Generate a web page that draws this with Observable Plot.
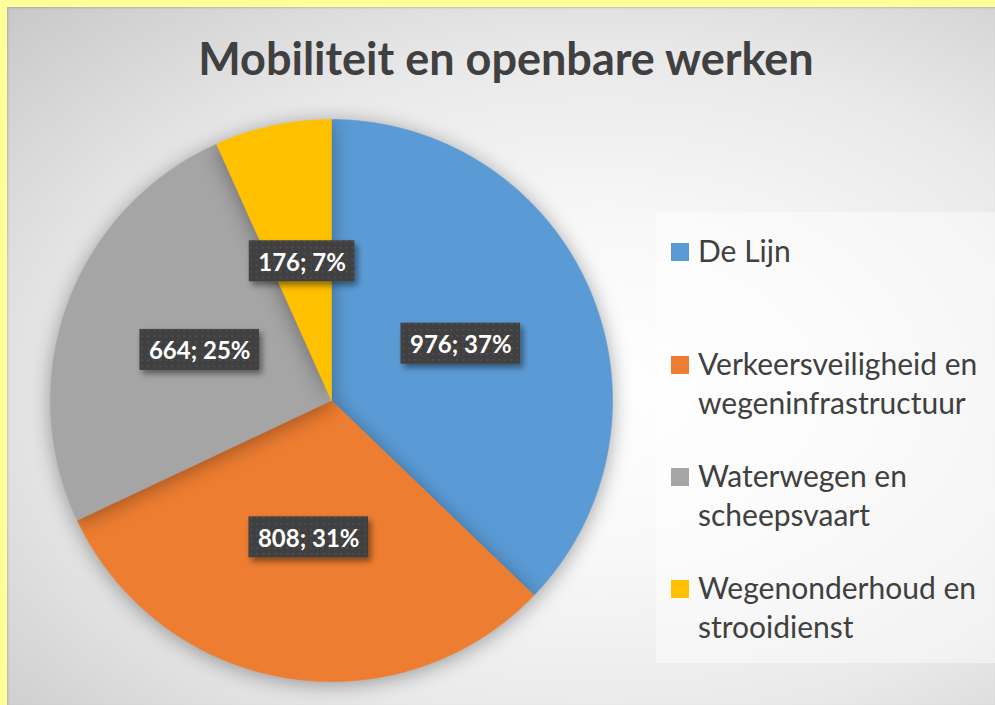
<!DOCTYPE html>
<html>
<head>
<meta charset="utf-8">
<script src="https://cdn.jsdelivr.net/npm/d3@7"></script>
<script src="https://cdn.jsdelivr.net/npm/@observablehq/plot@0.6"></script>
<style>
  html, body { margin: 0; padding: 0; }
  body { width: 995px; height: 705px; background: #ffff99; position: relative; overflow: hidden; font-family: Lato, "Open Sans", sans-serif; }
  #chart {
    position: absolute; left: 7px; top: 7px; width: 988px; height: 698px;
    background: radial-gradient(ellipse farthest-corner at 60% 55%, #ffffff 0%, #f8f8f8 30%, #e9e9e9 62%, #c8c8c8 100%);
    box-shadow: inset 1px 1px 2px rgba(0,0,0,0.15);
  }
  #title {
    position: absolute; left: 0; width: 100%; top: 24px; text-align: center; padding-left: 10px; box-sizing: border-box;
    font-family: Lato, sans-serif; font-weight: 700; font-size: 45px; color: #404040;
  }
  #plot { position: absolute; left: 0; top: 0; }
  #legend {
    position: absolute; left: 649px; top: 205px; width: 339px; height: 451px;
    background: rgba(255,255,255,0.45);
  }
  .item { position: absolute; left: 0; }
  .sw { position: absolute; left: 15px; width: 18px; height: 18px; }
  .lbl { position: absolute; left: 42px; font-size: 30px; line-height: 39px; color: #404040; white-space: nowrap; }
  .pie path { filter: drop-shadow(0px 3px 10px rgba(0,0,0,0.35)); }
</style>
</head>
<body>
<div id="chart">
  <div id="title"></div>
  <div id="plot"></div>
  <div id="legend"></div>
</div>
<script>
const title = "Mobiliteit en openbare werken";
const categories = ["De Lijn", "Verkeersveiligheid en wegeninfrastructuur", "Waterwegen en scheepsvaart", "Wegenonderhoud en strooidienst"];
const legendLines = [["De Lijn"], ["Verkeersveiligheid en", "wegeninfrastructuur"], ["Waterwegen en", "scheepsvaart"], ["Wegenonderhoud en", "strooidienst"]];
const values = [976, 808, 664, 176];
const colors = ["#5B9BD5", "#ED7D31", "#A5A5A5", "#FFC000"];

document.getElementById("title").textContent = title;

const total = d3.sum(values);
const arcs = d3.pie().sort(null).value(d => d)(values);

// wedge outlines (unit circle) built from the pie angles
const wedgePts = [];
arcs.forEach((a, i) => {
  const name = categories[i];
  wedgePts.push({name, x: 0, y: 0});
  const n = Math.max(8, Math.ceil((a.endAngle - a.startAngle) / 0.004));
  for (let k = 0; k <= n; k++) {
    const t = a.startAngle + (a.endAngle - a.startAngle) * k / n;
    wedgePts.push({name, x: Math.sin(t), y: Math.cos(t)});
  }
  wedgePts.push({name, x: 0, y: 0});
});

// data labels at half radius
const labelData = arcs.map((a, i) => {
  const m = (a.startAngle + a.endAngle) / 2;
  return {
    name: categories[i],
    x: 0.5 * Math.sin(m),
    y: 0.5 * Math.cos(m),
    text: `${values[i]}; ${Math.round(values[i] / total * 100)}%`
  };
});

const cx = 324, cy = 393, R = 281;
const chart = Plot.plot({
  width: 988,
  height: 698,
  margin: 0,
  style: {background: "transparent", overflow: "visible"},
  x: {domain: [-1, 1], range: [cx - R, cx + R], axis: null},
  y: {domain: [-1, 1], range: [cy + R, cy - R], axis: null},
  color: {domain: categories, range: colors},
  marks: [
    Plot.line(wedgePts, {x: "x", y: "y", z: "name", fill: "name", stroke: "name", strokeWidth: 0.6, className: "pie"}),
    Plot.text(labelData, {x: "x", y: "y", text: "text", fill: "white", fontSize: 24, fontWeight: "bold", fontFamily: "Lato, sans-serif", className: "dlabels"})
  ]
});
document.getElementById("plot").appendChild(chart);

// add dark boxes behind data labels
const svg = d3.select(chart);
const defs = svg.insert("defs", ":first-child");
const pat = defs.append("pattern").attr("id", "dots").attr("width", 6).attr("height", 6).attr("patternUnits", "userSpaceOnUse");
pat.append("rect").attr("width", 6).attr("height", 6).attr("fill", "#404040");
pat.append("circle").attr("cx", 3).attr("cy", 3).attr("r", 1.1).attr("fill", "#505050");
const flt = defs.append("filter").attr("id", "sh").attr("x", "-20%").attr("y", "-40%").attr("width", "150%").attr("height", "200%");
flt.append("feDropShadow").attr("dx", 3).attr("dy", 4).attr("stdDeviation", 3).attr("flood-color", "#000").attr("flood-opacity", 0.45);
const textG = svg.select("g.dlabels").node();
const boxG = d3.select(textG.parentNode).insert("g", () => textG);
svg.selectAll("g.dlabels text").each(function() {
  const b = this.getBBox();
  const cxm = b.x + b.width / 2, cym = b.y + b.height / 2;
  const w = b.width + 18, h = 41;
  boxG.append("rect")
    .attr("transform", this.getAttribute("transform"))
    .attr("x", cxm - w / 2)
    .attr("y", cym - h / 2).attr("width", w).attr("height", h)
    .attr("fill", "url(#dots)").attr("filter", "url(#sh)");
});

// legend
const legendTops = [29, 142, 254, 366];
const legend = d3.select("#legend");
categories.forEach((c, i) => {
  const it = legend.append("div").attr("class", "item").style("top", legendTops[i] + "px");
  it.append("div").attr("class", "sw").style("top", "2px").style("background", colors[i]);
  const l = it.append("div").attr("class", "lbl").style("top", "-10px");
  l.html(legendLines[i].join("<br>"));
});
</script>
</body>
</html>
